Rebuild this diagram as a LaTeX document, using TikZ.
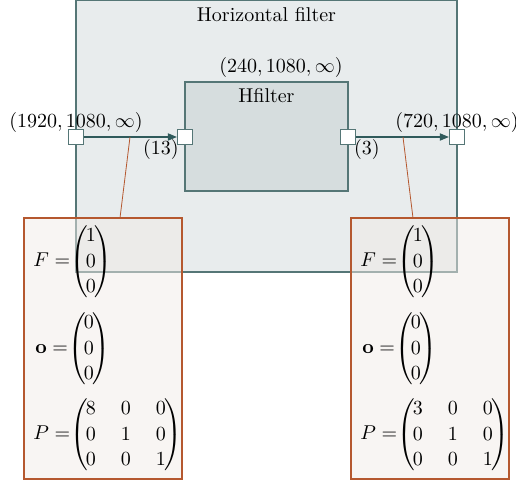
\documentclass[tikz,border=0pt]{standalone}
\usepackage{amsmath}
\usetikzlibrary{arrows.meta}
\definecolor{outerfill}{HTML}{E8ECED}
\definecolor{boxdraw}{HTML}{557676}
\definecolor{innerfill}{HTML}{D6DDDE}
\definecolor{arrowcol}{HTML}{2F5A5B}
\definecolor{annodraw}{HTML}{B5582F}
\definecolor{annofill}{HTML}{F1EBE7}
\newcommand{\colvec}[3]{\mkern-5mu\left(\mkern-1.5mu\begin{array}{@{}c@{}}#1\\#2\\#3\end{array}\mkern-1.5mu\right)}
\newcommand{\sqmat}[9]{\mkern-5mu\left(\mkern-1.5mu\begin{array}{@{}c@{\hspace{12.5pt}}c@{\hspace{12.5pt}}c@{}}#1&#2&#3\\#4&#5&#6\\#7&#8&#9\end{array}\mkern-1.5mu\right)}
\tikzset{
  outerbox/.style={draw=boxdraw, fill=outerfill, line width=0.7pt, minimum width=190.5pt, minimum height=135.75pt, inner sep=0pt},
  innerbox/.style={draw=boxdraw, fill=innerfill, line width=0.7pt, minimum width=81.5pt, minimum height=54.5pt, inner sep=0pt},
  port/.style={draw=boxdraw, fill=white, line width=0.6pt, minimum size=7.5pt, inner sep=0pt},
  flow/.style={draw=arrowcol, line width=0.6pt, -{Triangle[length=4.5pt,width=3.6pt]}},
  leader/.style={draw=annodraw, line width=0.4pt},
  annobox/.style={draw=annodraw, fill=annofill, fill opacity=0.5, line width=0.6pt, minimum width=79pt, minimum height=130.5pt, inner sep=0pt},
  lbl/.style={inner sep=0pt, anchor=base},
  mathlbl/.style={inner sep=0pt, anchor=west},
}
\begin{document}
\begin{tikzpicture}[x=0.5pt,y=-0.5pt]
\useasboundingbox (0,0) rectangle (516,482);
% boxes
\node[outerbox] (outer) at (266.5,136.25) {};
\node[lbl] (outertitle) at (266.5,22) {Horizontal filter};
\node[innerbox] (inner) at (266.5,136.5) {};
\node[lbl] (innertitle) at (266.5,103) {Hfilter};
\node[lbl] (innerdim) at (281,73) {$(240,1080,\infty)$};
% ports
\node[port] (pinL) at (76,137) {};
\node[port] (hinL) at (185,137) {};
\node[port] (houtR) at (348,137) {};
\node[port] (poutR) at (457,137) {};
\node[lbl] (pinLlbl) at (76,127) {$(1920,1080,\infty)$};
\node[lbl] (poutRlbl) at (457,127) {$(720,1080,\infty)$};
\node[lbl] (hinLlbl) at (161,155) {$(13)$};
\node[lbl] (houtRlbl) at (367,155) {$(3)$};
% arrows
\draw[flow] (pinL) -- (hinL);
\draw[flow] (houtR) -- (poutR);
% leader lines
\coordinate (la) at (130,137);
\coordinate (lb) at (120,218);
\coordinate (ra) at (403,137);
\coordinate (rb) at (413,218);
\draw[leader] (la) -- (lb);
\draw[leader] (ra) -- (rb);
% annotation boxes
\node[annobox] (annL) at (103,348.5) {};
\node[annobox] (annR) at (430,348.5) {};
\begingroup
\renewcommand{\arraystretch}{1.06}
\node[mathlbl] (FL) at (33,262) {$F=\colvec{1}{0}{0}$};
\node[mathlbl] (oL) at (35,349) {$\mathbf{o}=\colvec{0}{0}{0}$};
\node[mathlbl] (PL) at (33,435) {$P=\sqmat{8}{0}{0}{0}{1}{0}{0}{0}{1}$};
\node[mathlbl] (FR) at (360,262) {$F=\colvec{1}{0}{0}$};
\node[mathlbl] (oR) at (362,349) {$\mathbf{o}=\colvec{0}{0}{0}$};
\node[mathlbl] (PR) at (360,435) {$P=\sqmat{3}{0}{0}{0}{1}{0}{0}{0}{1}$};
\endgroup
\end{tikzpicture}
\end{document}
